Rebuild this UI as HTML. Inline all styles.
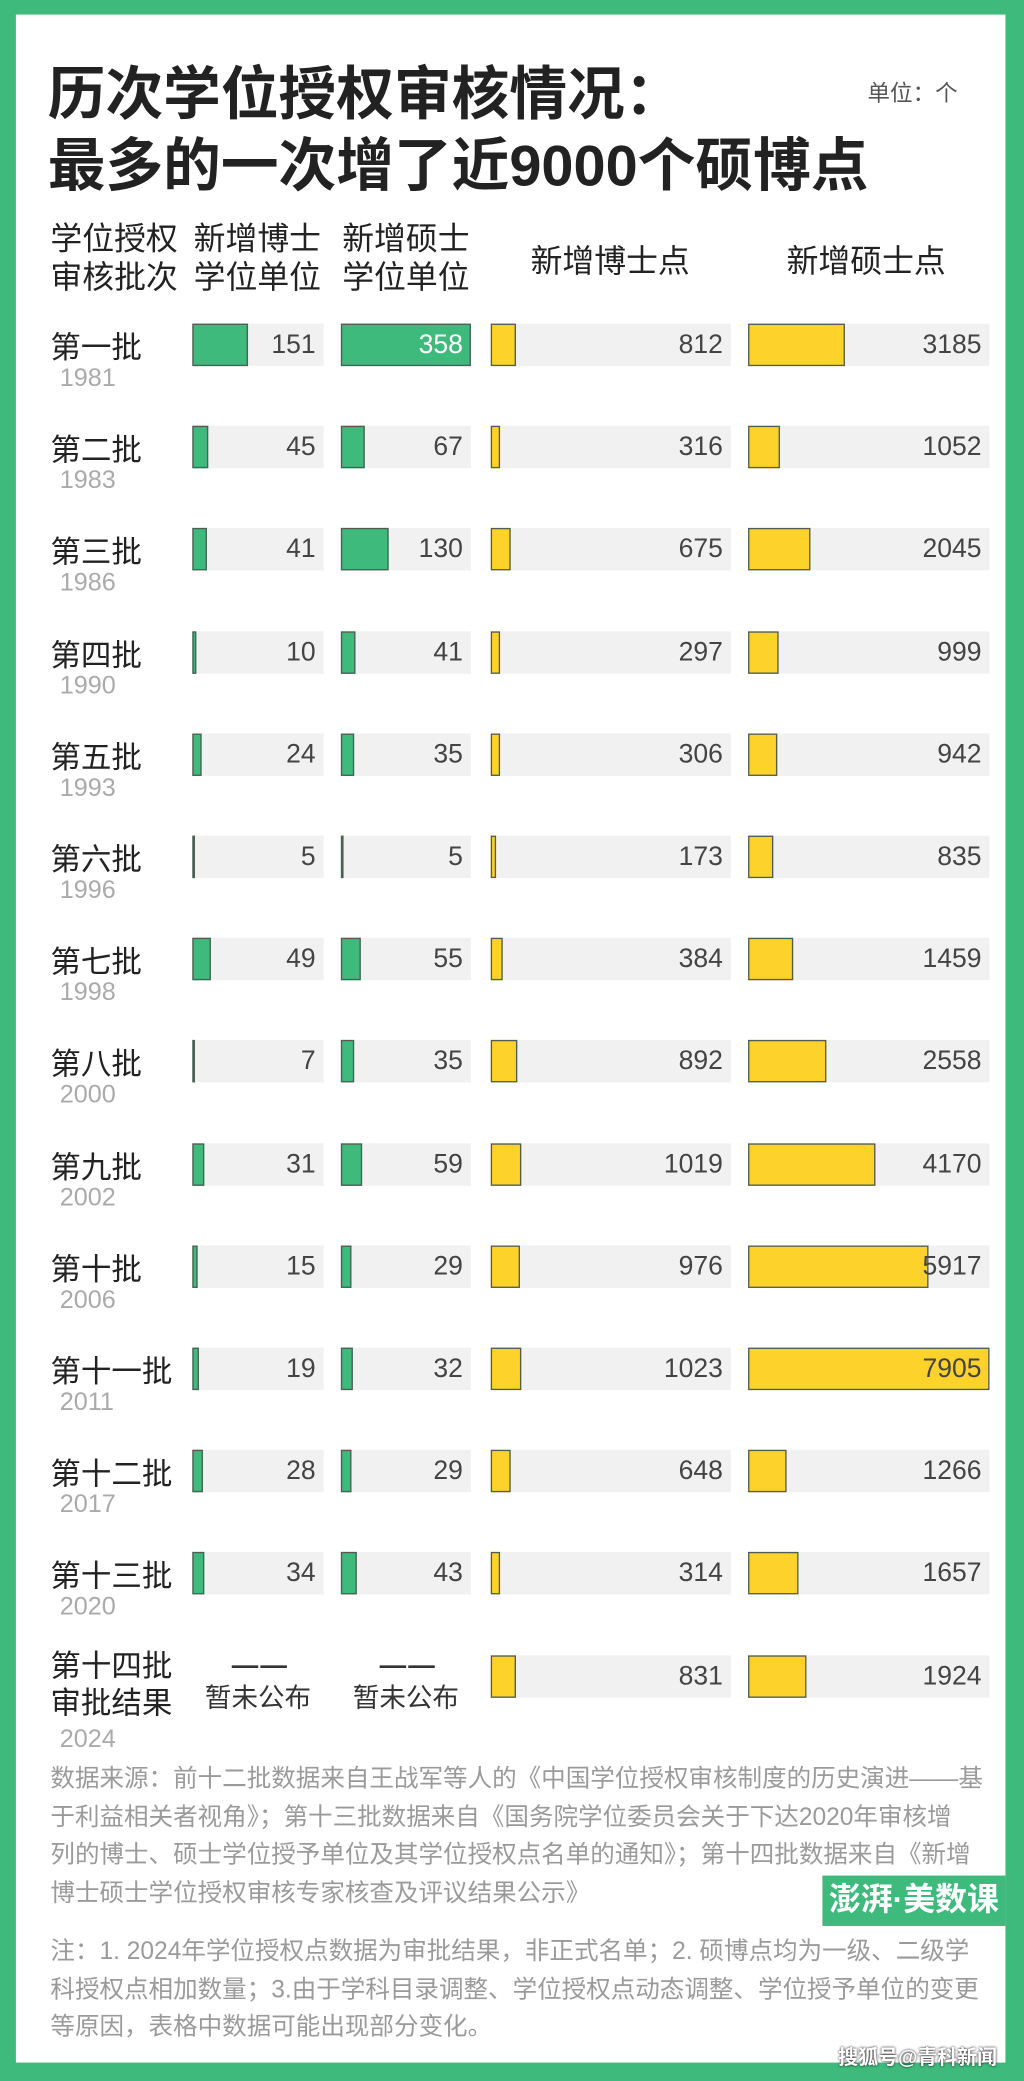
<!DOCTYPE html>
<html><head><meta charset="utf-8">
<style>
html,body{margin:0;padding:0;}
body{width:1024px;height:2081px;overflow:hidden;background:#3fba7d;font-family:"Liberation Sans","Noto Sans CJK SC",sans-serif;}
#wrap{position:absolute;left:0;top:0;width:772px;height:1569px;transform:scale(1.32642);transform-origin:0 0;}
#card{position:absolute;left:12px;top:11px;width:746px;height:1544px;background:#fff;}
.t{position:absolute;white-space:nowrap;}
.title{font-weight:bold;font-size:43.5px;color:#222;left:36px;}
.hdr{font-size:24px;color:#222;line-height:29px;}
.lbl{font-size:23px;color:#222;}
.yr{font-size:19px;color:#aaa;}
.bg{position:absolute;height:32px;background:#f1f1f1;}
.bar{position:absolute;height:32px;box-sizing:border-box;border:1px solid #4e5e55;}
.val{position:absolute;font-size:20px;color:#444;line-height:32px;text-align:right;}
.src{font-size:18.5px;color:#9a9a9a;left:38px;line-height:28.5px;}
</style></head><body>
<div id="wrap">
<div id="card"></div>
<div class="t title" style="top:36px">历次学位授权审核情况：</div>
<div class="t title" style="top:90px">最多的一次增了近9000个硕博点</div>
<div class="t" style="left:654px;top:56px;font-size:17px;color:#555">单位：个</div>
<div class="t hdr" style="left:38px;top:166px">学位授权<br>审核批次</div>
<div class="t hdr" style="left:146px;top:166px">新增博士<br>学位单位</div>
<div class="t hdr" style="left:258px;top:166px">新增硕士<br>学位单位</div>
<div class="t hdr" style="left:400px;top:183px">新增博士点</div>
<div class="t hdr" style="left:593px;top:183px">新增硕士点</div>
<div id="rows"></div>
<div class="t src" style="top:1327px">数据来源：前十二批数据来自王战军等人的《中国学位授权审核制度的历史演进——基<br>于利益相关者视角》；第十三批数据来自《国务院学位委员会关于下达2020年审核增<br>列的博士、硕士学位授予单位及其学位授权点名单的通知》；第十四批数据来自《新增<br>博士硕士学位授权审核专家核查及评议结果公示》</div>
<div class="t" style="left:620px;top:1414px;width:138px;height:38px;background:#3fba7d;color:#fff;font-size:24px;font-weight:bold;line-height:38px;text-align:center">澎湃·美数课</div>
<div class="t src" style="top:1457px">注：1. 2024年学位授权点数据为审批结果，非正式名单；2. 硕博点均为一级、二级学<br>科授权点相加数量；3.由于学科目录调整、学位授权点动态调整、学位授予单位的变更<br>等原因，表格中数据可能出现部分变化。</div>
<div class="t" style="left:632px;top:1540px;font-size:15px;color:#fff;font-weight:bold;text-shadow:0 0 2px #000">搜狐号@青科新闻</div>
</div>
<script>
const batches=["第一批","第二批","第三批","第四批","第五批","第六批","第七批","第八批","第九批","第十批","第十一批","第十二批","第十三批","第十四批"];
const years=["1981","1983","1986","1990","1993","1996","1998","2000","2002","2006","2011","2017","2020","2024"];
const phdUnits=[151,45,41,10,24,5,49,7,31,15,19,28,34,null];
const masterUnits=[358,67,130,41,35,5,55,35,59,29,32,29,43,null];
const phdPoints=[812,316,675,297,306,173,384,892,1019,976,1023,648,314,831];
const masterPoints=[3185,1052,2045,999,942,835,1459,2558,4170,5917,7905,1266,1657,1924];
const unitMax=358, pointMax=7905;
const cols=[{x:145,w:99,max:unitMax,data:phdUnits,c:'#3fba7d',n:'phd-units'},
 {x:257,w:98,max:unitMax,data:masterUnits,c:'#3fba7d',n:'master-units'},
 {x:370,w:181,max:pointMax,data:phdPoints,c:'#fdd22a',n:'phd-points'},
 {x:564,w:182,max:pointMax,data:masterPoints,c:'#fdd22a',n:'master-points'}];
const rows=document.getElementById('rows');
function mk(cls,st,txt){const d=document.createElement('div');d.className=cls;Object.assign(d.style,st);if(txt!=null)d.innerHTML=txt;rows.appendChild(d);return d;}
batches.forEach((b,i)=>{
  const y=244+i*77.2;
  const last=i===13;
  const l=mk('t lbl',{left:'38px',top:(last?y-6:y+4)+'px',lineHeight:'28px'},last?'第十四批<br>审批结果':b);
  
  
  const yr=mk('t yr',{left:'45px',top:(last?y+53:y+31)+'px'},years[i]);
  
  
  cols.forEach(c=>{
    const v=c.data[i];
    if(v==null){
      const p=mk('t',{left:c.x+'px',top:(y-4)+'px',width:c.w+'px',textAlign:'center',fontSize:'20px',color:'#333',lineHeight:'25px'},'<b style="letter-spacing:-2px">— —</b><br>暂未公布');
      
      
      return;
    }
    const bg=mk('bg',{left:c.x+'px',top:y+'px',width:c.w+'px'});
    
    
    const bw=Math.max(2,v/c.max*c.w);
    const bar=mk('bar',{left:c.x+'px',top:y+'px',width:bw+'px',background:c.c});
    
    
    const t=mk('val',{left:c.x+'px',top:y+'px',width:(c.w-6)+'px',color:(bw>c.w-40&&c.c==='#3fba7d')?'#fff':'#444'},String(v));
    
    
  });
});
</script>
</body></html>
